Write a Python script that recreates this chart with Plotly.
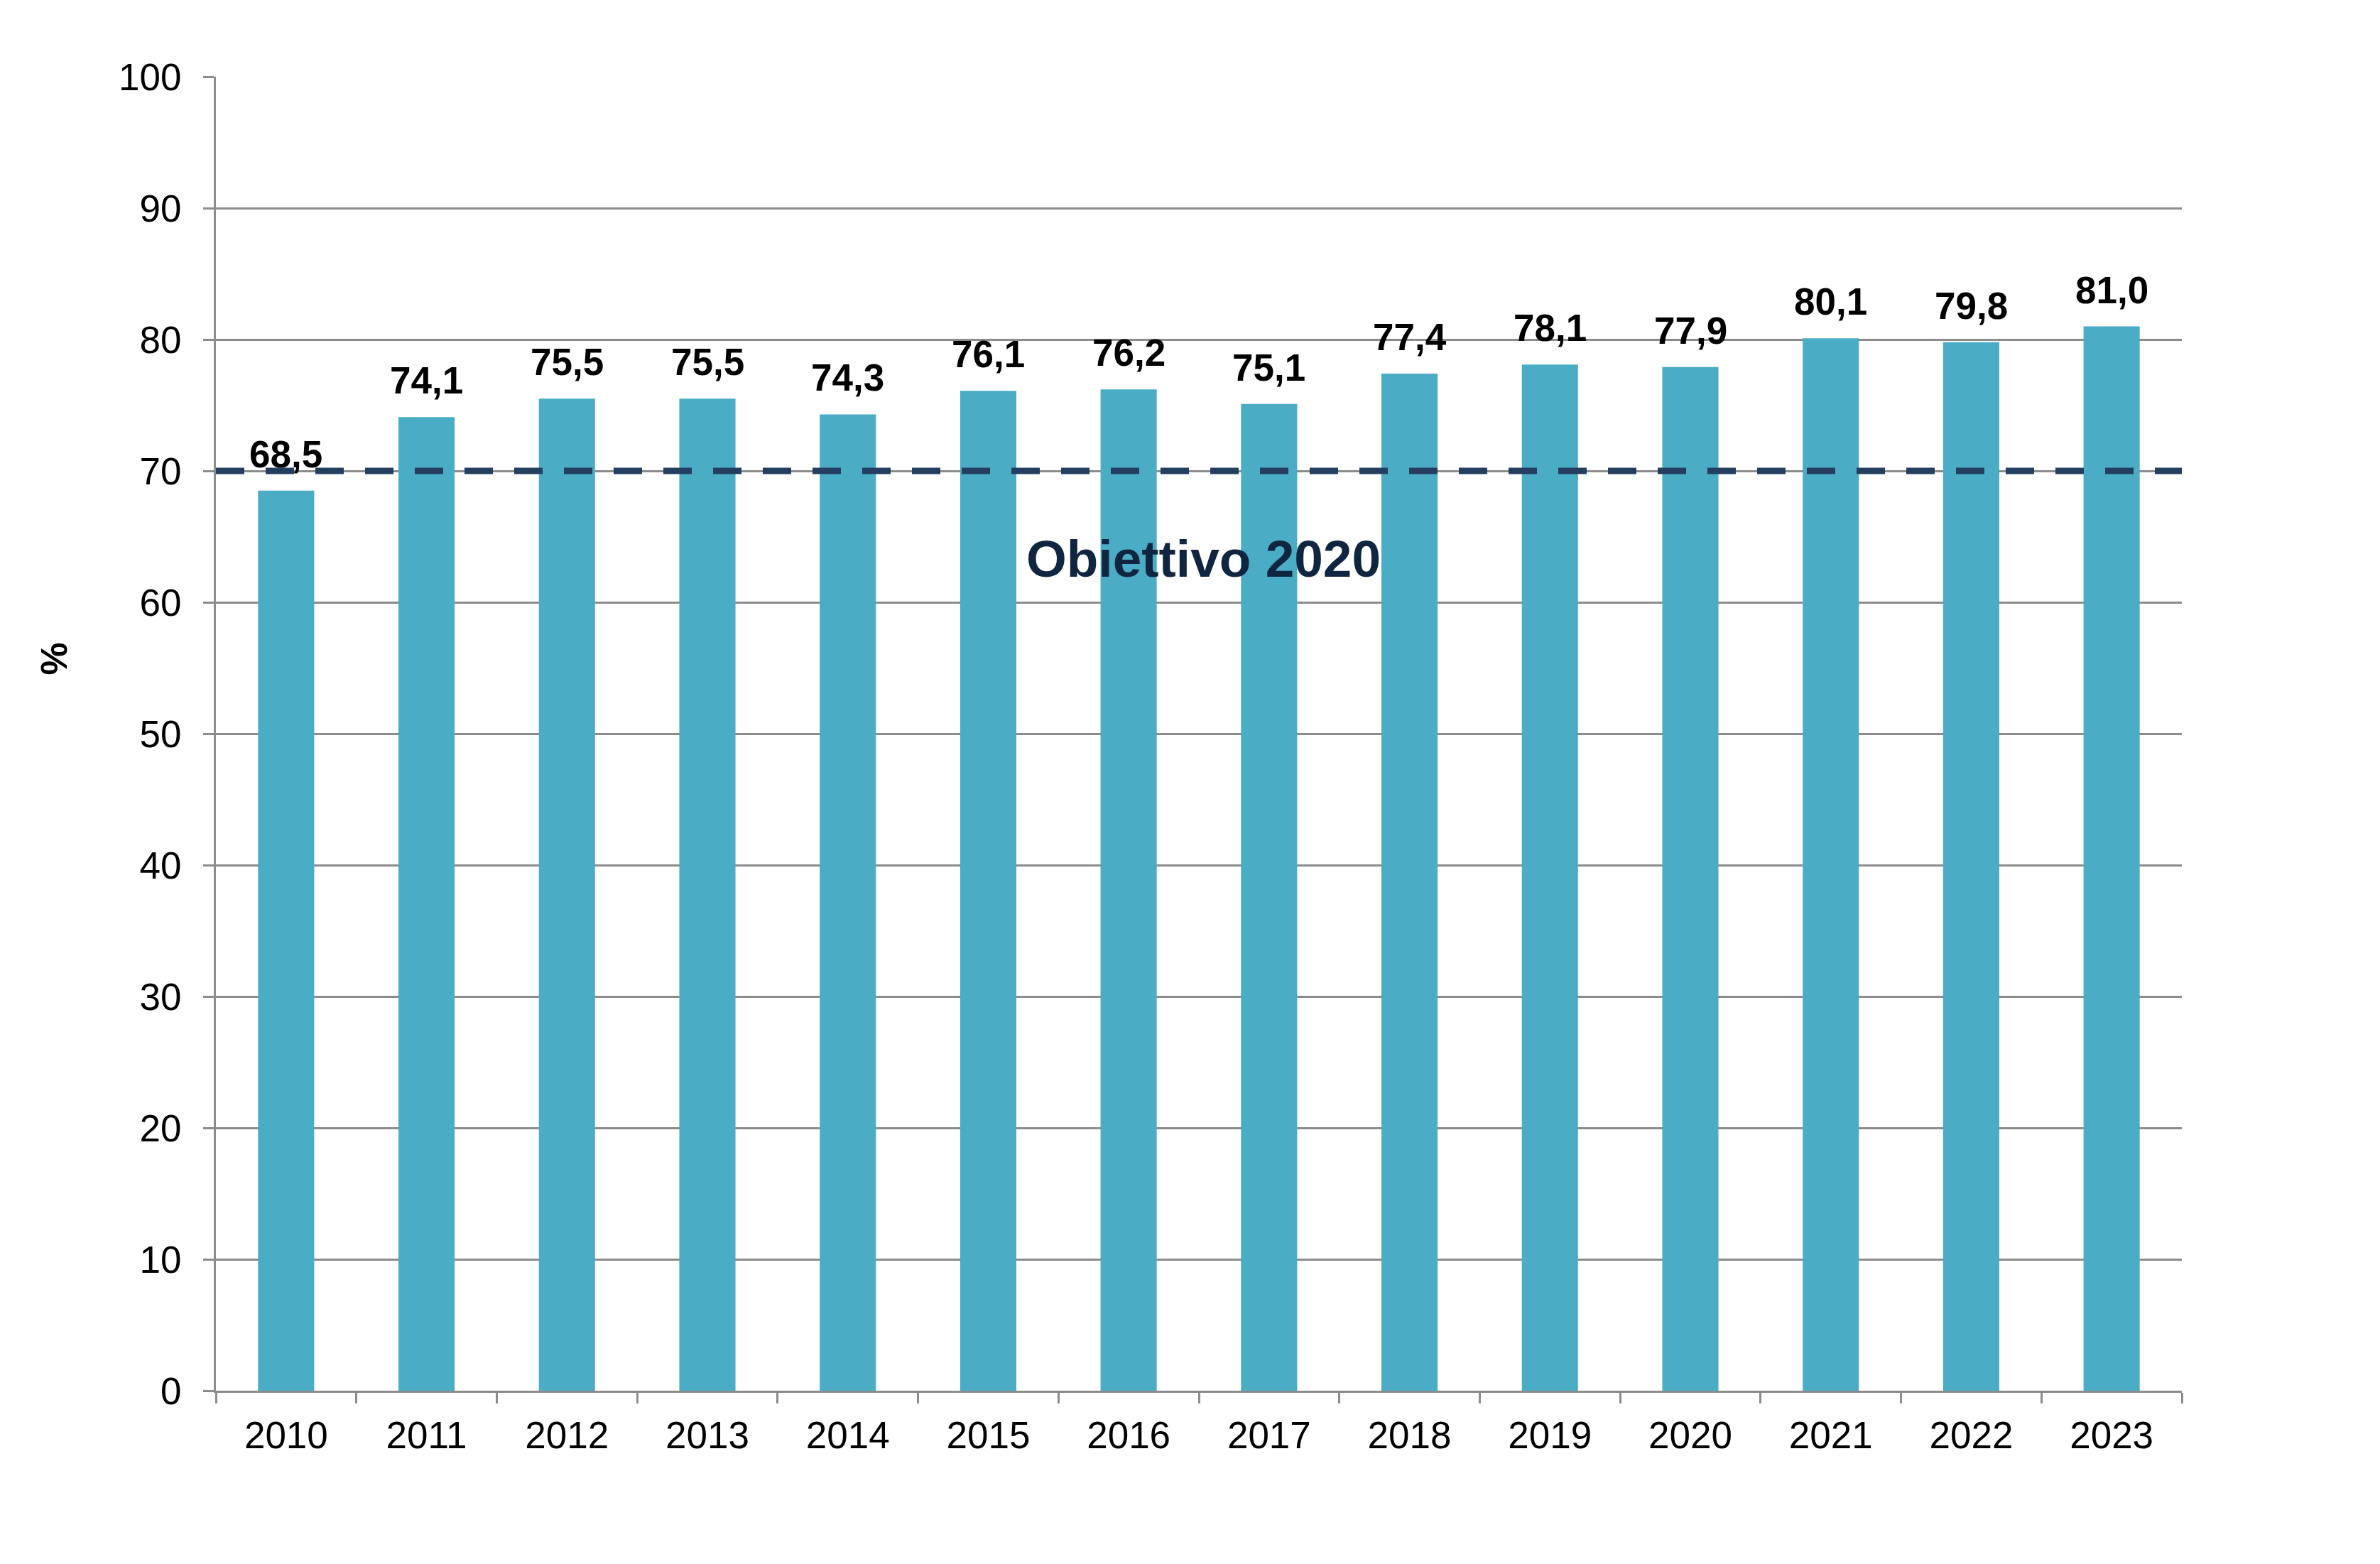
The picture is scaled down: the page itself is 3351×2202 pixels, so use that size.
import plotly.graph_objects as go

years = ["2010", "2011", "2012", "2013", "2014", "2015", "2016",
         "2017", "2018", "2019", "2020", "2021", "2022", "2023"]
values = [68.5, 74.1, 75.5, 75.5, 74.3, 76.1, 76.2,
          75.1, 77.4, 78.1, 77.9, 80.1, 79.8, 81.0]
target_value = 70
target_label = "Obiettivo 2020"
y_ticks = [0, 10, 20, 30, 40, 50, 60, 70, 80, 90, 100]
y_title = "%"

BAR_COLOR = "#4bacc6"
LINE_COLOR = "#243e60"
TEXT_NAVY = "#10253f"
GRID = "#8c8c8c"
FONT = "Liberation Sans, Arial, sans-serif"

fig = go.Figure()
fig.add_trace(go.Bar(
    x=years, y=values,
    marker=dict(color=BAR_COLOR, line=dict(width=0)),
    hoverinfo="x+y",
))

# target dashed line across the plot area
fig.add_shape(type="line", xref="paper", yref="y",
              x0=0, x1=1, y0=target_value, y1=target_value,
              line=dict(color=LINE_COLOR, width=9, dash="40px,30px"),
              layer="above")

annotations = []
for i, v in enumerate(values):
    annotations.append(dict(
        x=i, y=v, xref="x", yref="y",
        text="<b>" + f"{v:.1f}".replace(".", ",") + "</b>",
        showarrow=False, yanchor="bottom", xanchor="center",
        yshift=20,
        font=dict(family=FONT, size=53, color="#000000"),
    ))

annotations.append(dict(
    x=0.5025, y=63.35, xref="paper", yref="y",
    text="<b>" + target_label + "</b>",
    showarrow=False, xanchor="center", yanchor="middle",
    font=dict(family=FONT, size=73, color=TEXT_NAVY),
))

annotations.append(dict(
    x=-0.0824, y=0.557, xref="paper", yref="paper",
    text="<b>" + y_title + "</b>", textangle=-90,
    showarrow=False, xanchor="center", yanchor="middle",
    font=dict(family=FONT, size=52, color="#000000"),
))

fig.update_layout(
    width=3351, height=2202,
    margin=dict(l=296, r=287, t=100, b=252, autoexpand=False),
    paper_bgcolor="white", plot_bgcolor="white",
    showlegend=False,
    bargap=0.6,
    font=dict(family=FONT, size=53, color="#000000"),
    annotations=annotations,
)

fig.update_xaxes(
    type="category", range=[-0.5, len(years) - 0.5], autorange=False,
    showline=True, linecolor=GRID, linewidth=3,
    ticks="outside", tickson="boundaries", ticklen=15, tickwidth=3, tickcolor=GRID,
    tickfont=dict(family=FONT, size=53, color="#000000"),
    tickangle=0,
    ticklabelstandoff=14,
    showgrid=False, zeroline=False,
)
fig.update_yaxes(
    range=[0, 100], tickvals=y_ticks, autorange=False,
    showline=True, linecolor=GRID, linewidth=3,
    ticks="outside", ticklen=15, tickwidth=3, tickcolor=GRID,
    tickfont=dict(family=FONT, size=53, color="#000000"),
    ticklabelstandoff=20,
    showgrid=True, gridcolor=GRID, gridwidth=3,
    zeroline=False,
)

fig.write_html("out.html")
